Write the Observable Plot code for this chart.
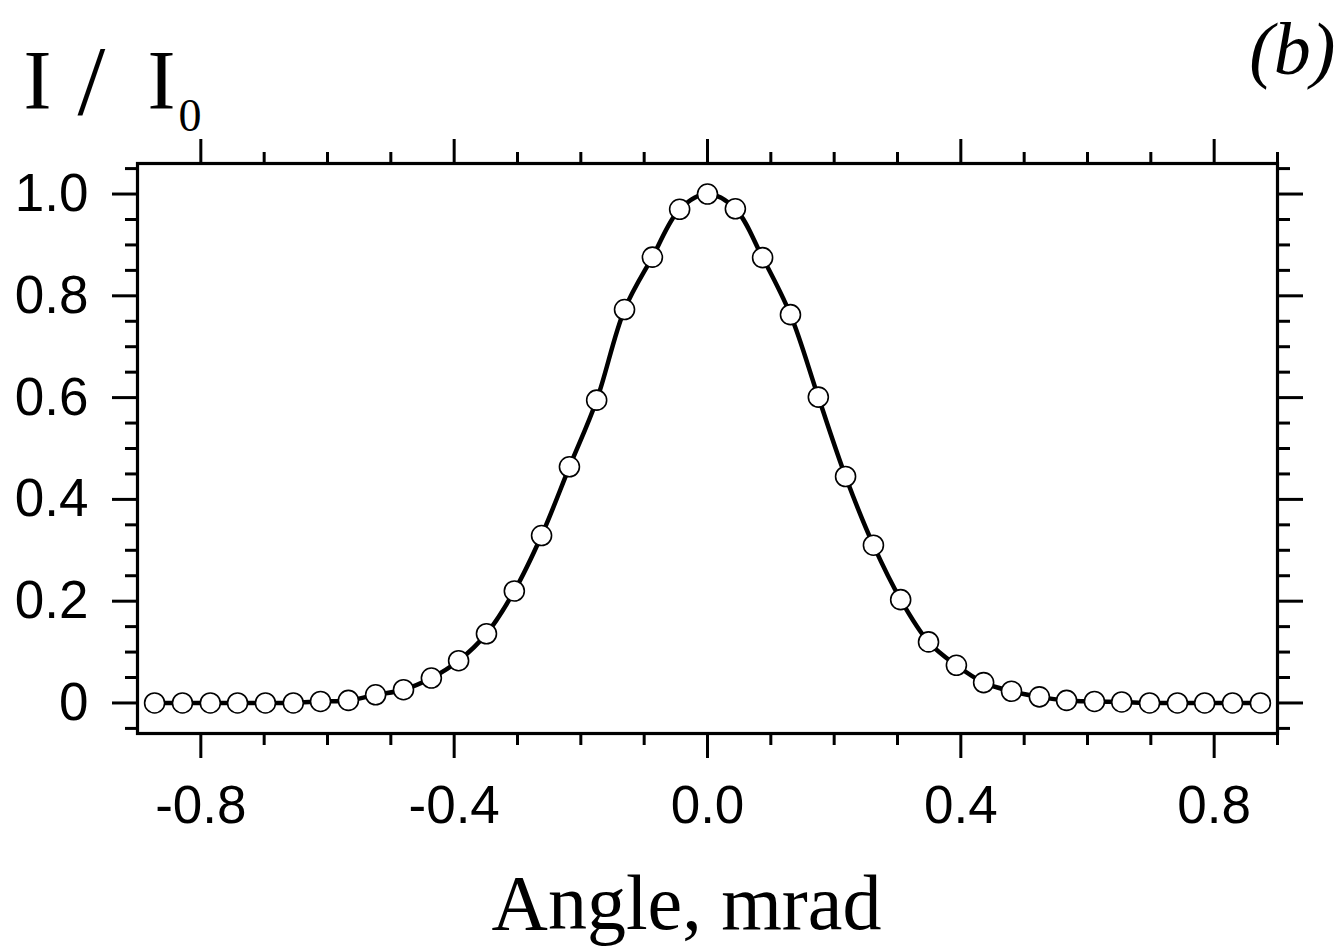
<!DOCTYPE html>
<html>
<head>
<meta charset="utf-8">
<script src="https://cdn.jsdelivr.net/npm/d3@7"></script>
<script src="https://cdn.jsdelivr.net/npm/@observablehq/plot@0.6"></script>
<style>
  html, body { margin: 0; padding: 0; background: #fff; }
  #chart svg { display: block; }
</style>
</head>
<body>
<div id="chart"></div>
<script>
// Angle (mrad) of each measured point
const angles = [
  -0.873, -0.829, -0.785, -0.742, -0.698, -0.654, -0.611, -0.567, -0.524, -0.480,
  -0.436, -0.393, -0.349, -0.305, -0.262, -0.218, -0.175, -0.131, -0.087, -0.044,
  0.000,
  0.044, 0.087, 0.131, 0.175, 0.218, 0.262, 0.305, 0.349, 0.393, 0.436,
  0.480, 0.524, 0.567, 0.611, 0.654, 0.698, 0.742, 0.785, 0.829, 0.873
];
// Normalised intensity I / I0
const intensity = [
  0.000, 0.000, 0.000, 0.000, 0.000, 0.000, 0.003, 0.005, 0.016, 0.026,
  0.049, 0.083, 0.136, 0.220, 0.329, 0.464, 0.595, 0.773, 0.876, 0.970,
  1.000,
  0.971, 0.875, 0.763, 0.601, 0.445, 0.310, 0.203, 0.120, 0.074, 0.040,
  0.023, 0.012, 0.005, 0.003, 0.002, 0.000, 0.000, 0.000, 0.000, 0.000
];
const xMajor = [-0.8, -0.4, 0.0, 0.4, 0.8];
const xMinor = [-0.7, -0.6, -0.5, -0.3, -0.2, -0.1, 0.1, 0.2, 0.3, 0.5, 0.6, 0.7, 0.9];
const yMajor = [0, 0.2, 0.4, 0.6, 0.8, 1.0];
const yMinor = [-0.05, 0.05, 0.1, 0.15, 0.25, 0.3, 0.35, 0.45, 0.5, 0.55, 0.65, 0.7, 0.75, 0.85, 0.9, 0.95, 1.05];

const data = angles.map((a, i) => ({angle: a, value: intensity[i]}));

const sans = "'Liberation Sans', Arial, Helvetica, sans-serif";
const serif = "'Liberation Serif', 'Times New Roman', serif";

const xFmt = d => d.toFixed(1);
const yFmt = d => d === 0 ? "0" : d.toFixed(1);

const chart = Plot.plot({
  width: 1339,
  height: 946,
  marginLeft: 137,
  marginRight: 62,
  marginTop: 163,
  marginBottom: 213,
  style: {background: "#fff", color: "#000"},
  x: {domain: [-0.9, 0.9]},
  y: {domain: [-0.06, 1.06]},
  marks: [
    // minor ticks
    Plot.axisX(xMinor, {anchor: "bottom", tickSize: 12, text: null, strokeWidth: 3, label: null}),
    Plot.axisX(xMinor, {anchor: "top", tickSize: 12, text: null, strokeWidth: 3, label: null}),
    Plot.axisY(yMinor, {anchor: "left", tickSize: 12, text: null, strokeWidth: 3, label: null}),
    Plot.axisY(yMinor, {anchor: "right", tickSize: 12, text: null, strokeWidth: 3, label: null}),
    // major ticks
    Plot.axisX(xMajor, {anchor: "bottom", tickSize: 25, tickPadding: 27, tickFormat: xFmt,
      fontSize: 53, fontFamily: sans, strokeWidth: 3, label: null}),
    Plot.axisX(xMajor, {anchor: "top", tickSize: 25, text: null, strokeWidth: 3, label: null}),
    Plot.axisY(yMajor, {anchor: "left", tickSize: 25, tickPadding: 24, tickFormat: yFmt,
      fontSize: 53, fontFamily: sans, strokeWidth: 3, label: null}),
    Plot.axisY(yMajor, {anchor: "right", tickSize: 25, text: null, strokeWidth: 3, label: null}),
    Plot.frame({stroke: "#000", strokeWidth: 3.2}),
    Plot.line(data, {x: "angle", y: "value", curve: "catmull-rom", stroke: "#000", strokeWidth: 4.5}),
    Plot.dot(data, {x: "angle", y: "value", r: 10, fill: "#fff", stroke: "#000", strokeWidth: 1.6}),
    // y label "I / I0"
    Plot.text(["I"], {frameAnchor: "top-left", text: d => d, dx: -114, dy: -55, textAnchor: "start",
      lineAnchor: "bottom", fontSize: 84, fontFamily: serif}),
    Plot.text(["/"], {frameAnchor: "top-left", text: d => d, dx: -60, dy: -50, textAnchor: "start",
      lineAnchor: "bottom", fontSize: 100, fontFamily: serif}),
    Plot.text(["I"], {frameAnchor: "top-left", text: d => d, dx: 10, dy: -55, textAnchor: "start",
      lineAnchor: "bottom", fontSize: 84, fontFamily: serif}),
    Plot.text(["0"], {frameAnchor: "top-left", text: d => d, dx: 41, dy: -33, textAnchor: "start",
      lineAnchor: "bottom", fontSize: 46, fontFamily: serif}),
    // panel label
    Plot.text(["(b)"], {frameAnchor: "top-right", text: d => d, dx: 58, dy: -90, textAnchor: "end",
      lineAnchor: "bottom", fontSize: 74, fontFamily: serif, fontStyle: "italic"}),
    // x label
    Plot.text(["Angle, mrad"], {frameAnchor: "bottom", text: d => d, dx: -21, dy: 195,
      lineAnchor: "bottom", fontSize: 78, fontFamily: serif})
  ]
});
document.getElementById("chart").appendChild(chart);
</script>
</body>
</html>
